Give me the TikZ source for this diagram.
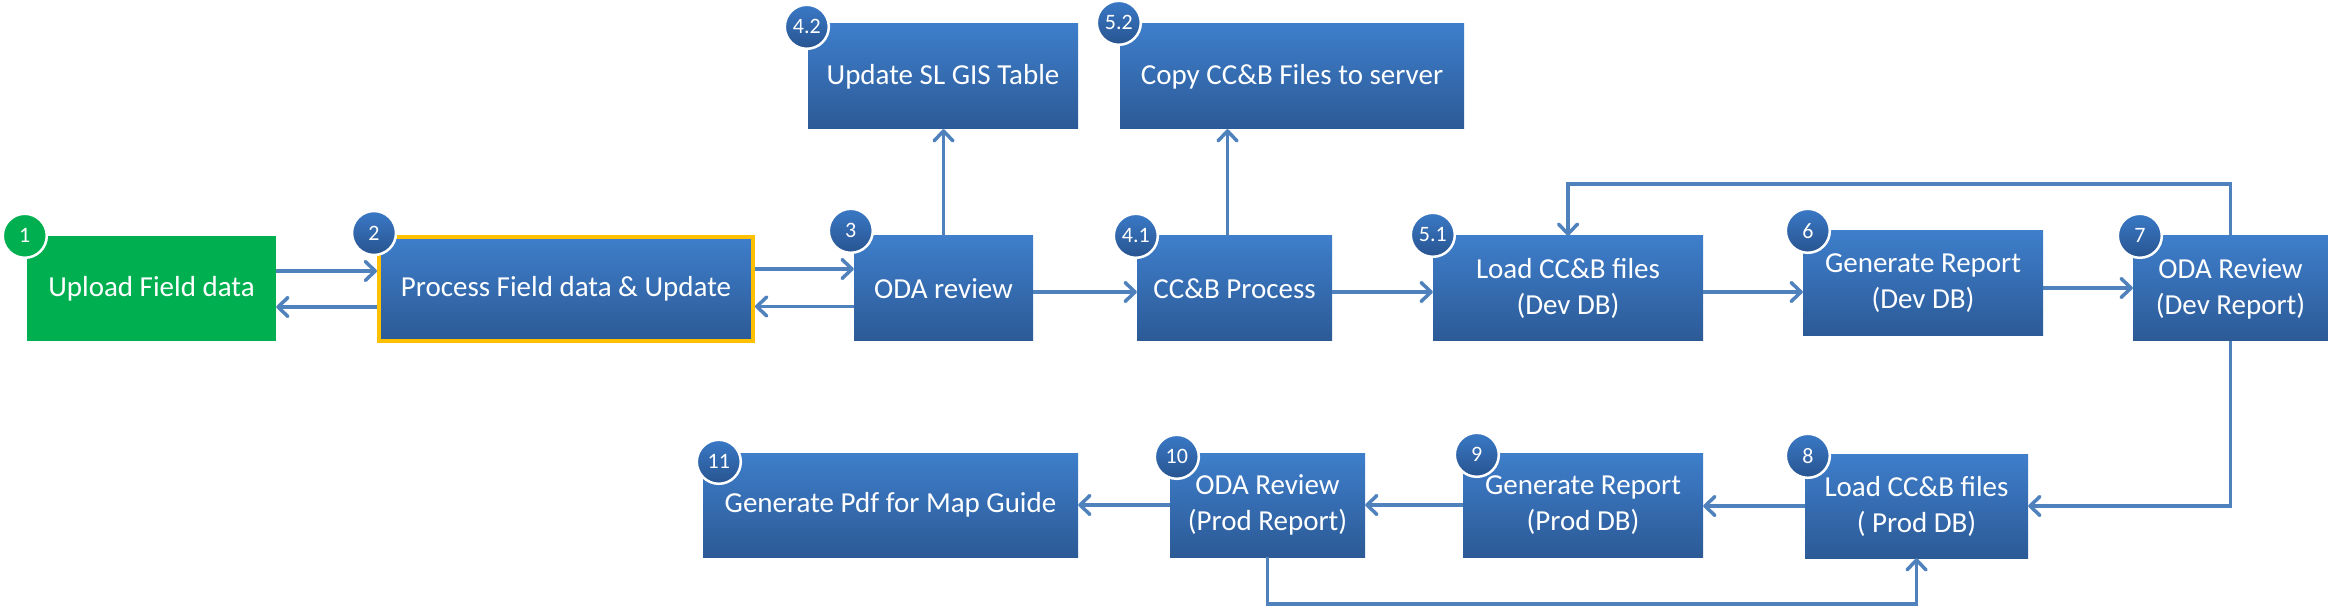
\documentclass[tikz,border=0pt]{standalone}
\usepackage{fontspec}
\setmainfont{Carlito}
\usetikzlibrary{arrows.meta,positioning,calc}
\definecolor{boxtop}{RGB}{62,126,203}
\definecolor{boxbot}{RGB}{44,90,150}
\definecolor{badgetop}{RGB}{58,121,198}
\definecolor{badgebot}{RGB}{40,84,144}
\definecolor{greenbox}{RGB}{0,176,80}
\definecolor{linkblue}{RGB}{79,129,189}
\definecolor{hilite}{RGB}{255,192,0}
\tikzset{
  box/.style={rectangle, minimum height=105pt, inner sep=0pt, align=center,
              text=white, font=\fontsize{29}{36}\selectfont},
  stage/.style={box, top color=boxtop, bottom color=boxbot},
  upload/.style={box, fill=greenbox},
  badge/.style={circle, minimum size=44pt, inner sep=0pt, draw=white,
                line width=2.5pt, top color=badgetop, bottom color=badgebot,
                text=white, font=\fontsize{22}{22}\selectfont},
  greenbadge/.style={badge, top color=greenbox, bottom color=greenbox},
  flow/.style={draw=linkblue, line width=3.5pt,
               -{Straight Barb[length=10pt,width=19pt,round]}}
}

\begin{document}
\begin{tikzpicture}[x=1pt, y=-1pt]
  \useasboundingbox (0,0) rectangle (2328,609);

  % top row
  \node[upload, minimum width=249pt] (b1) at (151.5,288.5) {Upload Field data};
  \node[stage, minimum width=374pt, minimum height=104pt, draw=hilite, line width=4pt] (b2) at (566,289) {Process Field data \& Update};
  \node[stage, minimum width=179pt] (b3) at (943.5,288.5) {ODA review};
  \node[stage, minimum width=270pt] (b42) at (943,76.5) {Update SL GIS Table};
  \node[stage, minimum width=344pt] (b52) at (1292,76.5) {Copy CC\&B Files to server};
  \node[stage, minimum width=195pt] (b41) at (1234.5,288.5) {CC\&B Process};
  \node[stage, minimum width=270pt] (b51) at (1568,288.5) {Load CC\&B files\\(Dev DB)};
  \node[stage, minimum width=240pt] (b6) at (1923,283.5) {Generate Report\\(Dev DB)};
  \node[stage, minimum width=195pt] (b7) at (2230.5,288.5) {ODA Review\\(Dev Report)};

  % bottom row
  \node[stage, minimum width=223pt, minimum height=104pt] (b8) at (1916.5,506) {Load CC\&B files\\( Prod DB)};
  \node[stage, minimum width=240pt, minimum height=104pt] (b9) at (1583,505) {Generate Report\\(Prod DB)};
  \node[stage, minimum width=195pt, minimum height=104pt] (b10) at (1267.5,505) {ODA Review\\(Prod Report)};
  \node[stage, minimum width=375pt, minimum height=104pt] (b11) at (890.5,505) {Generate Pdf for Map Guide};

  % step numbers
  \node[greenbadge] (n1) at ([shift={(-2,0)}]b1.north west) {1};
  \node[badge] (n2) at ([shift={(-3,-2)}]b2.north west) {2};
  \node[badge] (n3) at ([shift={(-3,-5)}]b3.north west) {3};
  \node[badge] (n42) at ([shift={(-1,3)}]b42.north west) {4.2};
  \node[badge] (n52) at ([shift={(-1,-1)}]b52.north west) {5.2};
  \node[badge] (n41) at ([shift={(-1,0)}]b41.north west) {4.1};
  \node[badge] (n51) at ([shift={(0,-1)}]b51.north west) {5.1};
  \node[badge] (n6) at ([shift={(5,0)}]b6.north west) {6};
  \node[badge] (n7) at ([shift={(7,0)}]b7.north west) {7};
  \node[badge] (n8) at ([shift={(3,2)}]b8.north west) {8};
  \node[badge] (n9) at ([shift={(14,2)}]b9.north west) {9};
  \node[badge] (n10) at ([shift={(7,4)}]b10.north west) {10};
  \node[badge] (n11) at ([shift={(16,9)}]b11.north west) {11};

  % connectors
  \draw[flow] ([yshift=17.5pt]b1.east) -- ([yshift=17.5pt]b1.east -| b2.west);
  \draw[flow] ([yshift=-18pt]b2.west) -- ([yshift=-18pt]b2.west -| b1.east);
  \draw[flow] ([yshift=20pt]b2.east) -- ([yshift=20pt]b2.east -| b3.west);
  \draw[flow] ([yshift=-18pt]b3.west) -- ([yshift=-18pt]b3.west -| b2.east);
  \draw[flow] (b3.north) -- (b3.north |- b42.south);
  \draw[flow] ([yshift=-3.5pt]b3.east) -- ([yshift=-3.5pt]b3.east -| b41.west);
  \draw[flow] ([xshift=-7pt]b41.north) -- ([xshift=-7pt]b41.north |- b52.south);
  \draw[flow] ([yshift=-3.5pt]b41.east) -- ([yshift=-3.5pt]b41.east -| b51.west);
  \draw[flow] ([yshift=-3.5pt]b51.east) -- ([yshift=-3.5pt]b51.east -| b6.west);
  \draw[flow] ([yshift=-4.5pt]b6.east) -- ([yshift=-4.5pt]b6.east -| b7.west);
  \draw[flow] (b7.north) -- ++(0,-52) -| (b51.north);
  \draw[flow] (b7.south) |- (b8.east);
  \draw[flow] (b8.west) -- (b8.west -| b9.east);
  \draw[flow] (b9.west) -- (b9.west -| b10.east);
  \draw[flow] (b10.west) -- (b10.west -| b11.east);
  \draw[flow] (b10.south) -- ++(0,47) -| (b8.south);
\end{tikzpicture}
\end{document}
